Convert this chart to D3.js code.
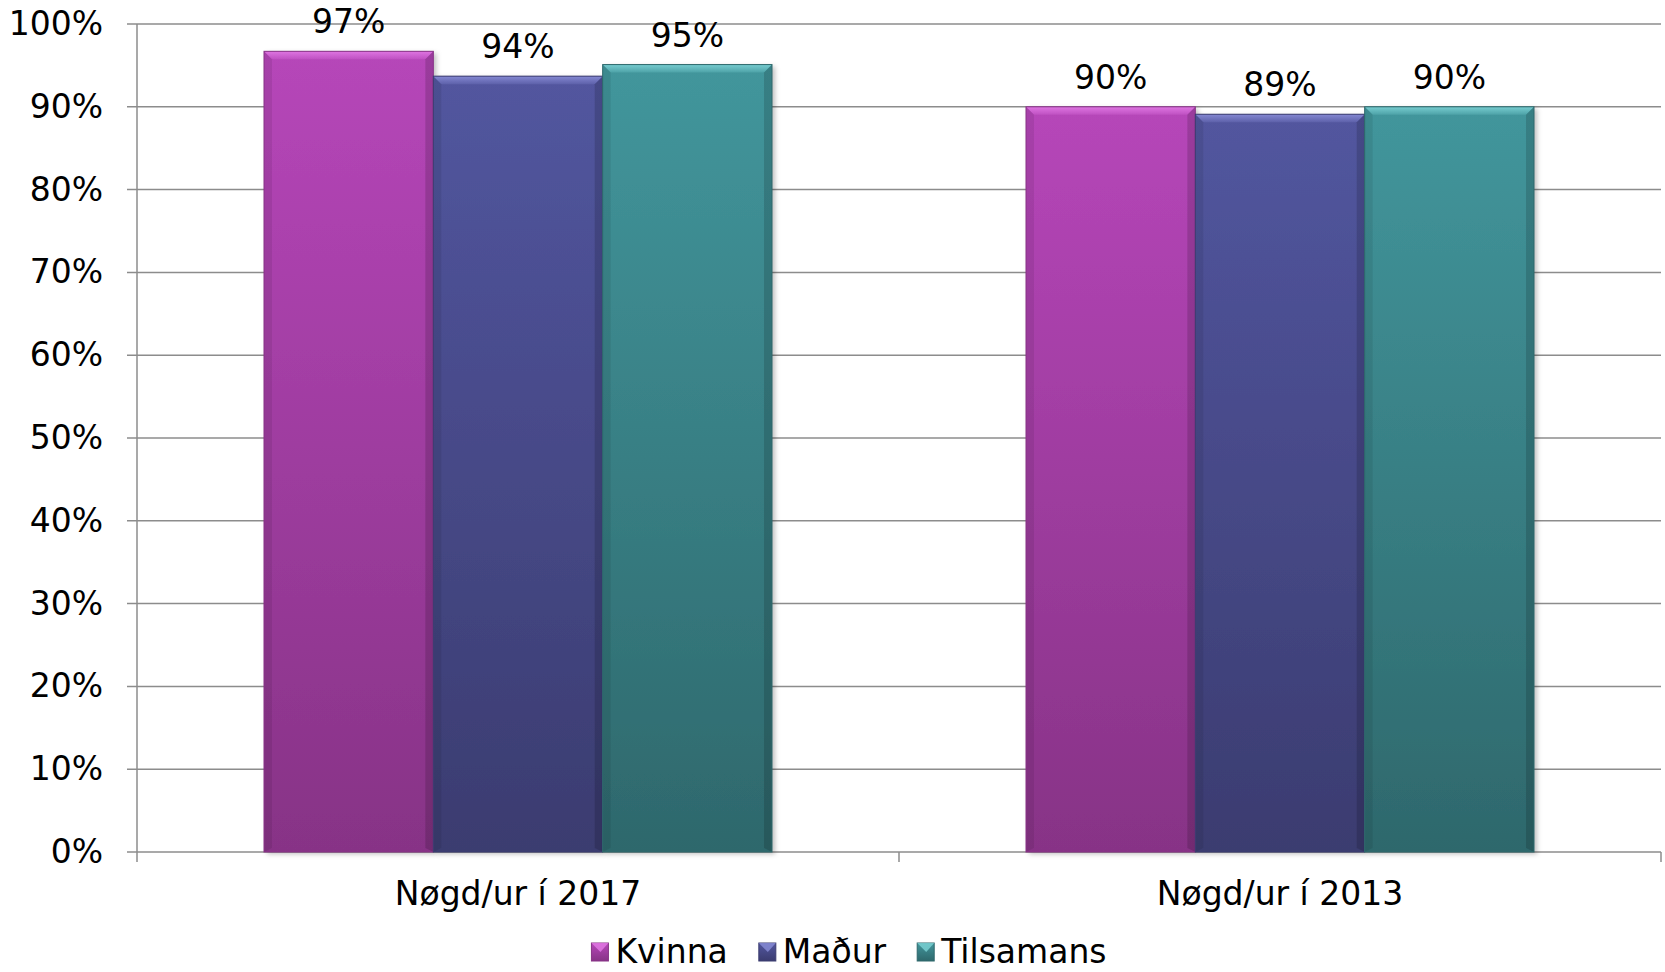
<!DOCTYPE html>
<head>
  <meta charset="utf-8">
  <script src="https://d3js.org/d3.v7.min.js"></script>
  <style>
    body { margin:0; background:#fff; }
    text { font-family: Verdana, "DejaVu Sans", sans-serif; fill:#000; }
  </style>
</head>

<body>
  <script>

  var width = 1665;
  var height = 972;
  var fontSize = "33px";

  // chart data
  var categories = ["Nøgd/ur í 2017", "Nøgd/ur í 2013"];
  var series = ["Kvinna", "Maður", "Tilsamans"];
  var kvinna = [0.967, 0.900];
  var madur = [0.937, 0.891];
  var tilsamans = [0.951, 0.900];
  var yTicks = [0, 0.1, 0.2, 0.3, 0.4, 0.5, 0.6, 0.7, 0.8, 0.9, 1.0];

  var seriesValues = [kvinna, madur, tilsamans];

  // colours: [top, bottom, bevel-light]
  var colors = [
    ["#b646b9", "#873386", "#e37ae6"],
    ["#52569f", "#3b3c70", "#8a8ed8"],
    ["#42969c", "#2e686c", "#7dd3d6"]
  ];

  var plot = {left: 137, right: 1661, top: 24, bottom: 852};

  var svg = d3.select("body").append("svg")
    .attr("width", width)
    .attr("height", height);

  var defs = svg.append("defs");
  colors.forEach(function(c, i) {
    var grad = defs.append("linearGradient")
      .attr("id", "grad" + i)
      .attr("x1", 0).attr("y1", 0).attr("x2", 0).attr("y2", 1);
    grad.append("stop").attr("offset", "0%").attr("stop-color", c[0]);
    grad.append("stop").attr("offset", "100%").attr("stop-color", c[1]);
    var bevel = defs.append("linearGradient")
      .attr("id", "bev" + i)
      .attr("x1", 0).attr("y1", 0).attr("x2", 0).attr("y2", 1);
    bevel.append("stop").attr("offset", "0%").attr("stop-color", c[2]).attr("stop-opacity", 0.9);
    bevel.append("stop").attr("offset", "100%").attr("stop-color", c[2]).attr("stop-opacity", 0.2);
  });
  var shadow = defs.append("filter").attr("id", "shadow")
    .attr("x", "-5%").attr("y", "-5%").attr("width", "115%").attr("height", "110%");
  shadow.append("feDropShadow")
    .attr("dx", 3).attr("dy", 2).attr("stdDeviation", 2.5)
    .attr("flood-color", "#000").attr("flood-opacity", 0.25);

  var y = d3.scaleLinear()
    .domain([0, 1])
    .range([plot.bottom, plot.top]);

  var x0 = d3.scaleBand()
    .domain(categories)
    .range([plot.left, plot.right])
    .padding(0);

  var bw = x0.bandwidth();
  var x1 = d3.scaleBand()
    .domain(series)
    .range([bw / 6, bw * 5 / 6])
    .padding(0);

  // gridlines
  svg.append("g").selectAll("line")
    .data(yTicks)
    .enter()
    .append("line")
    .attr("x1", plot.left - 10)
    .attr("x2", plot.right)
    .attr("y1", function(d) { return y(d); })
    .attr("y2", function(d) { return y(d); })
    .attr("stroke", "#8c8c8c")
    .attr("stroke-width", 1.5);

  // y axis labels
  var axisLeft = d3.axisLeft(y)
    .tickValues(yTicks)
    .tickFormat(d3.format(".0%"))
    .tickSize(10)
    .tickPadding(24);
  var yAxisG = svg.append("g")
    .attr("transform", "translate(" + plot.left + ",0)")
    .call(axisLeft);
  yAxisG.select(".domain").remove();
  yAxisG.selectAll("line").remove();
  yAxisG.selectAll("text")
    .style("font-family", "Verdana, 'DejaVu Sans', sans-serif")
    .style("font-size", fontSize)
    .attr("fill", "#000");

  // vertical axis line
  svg.append("line")
    .attr("x1", plot.left).attr("x2", plot.left)
    .attr("y1", plot.top).attr("y2", plot.bottom + 10)
    .attr("stroke", "#8c8c8c")
    .attr("stroke-width", 1.5);

  // category boundary ticks
  var bounds = categories.map(function(c) { return x0(c); }).concat([plot.right]);
  svg.append("g").selectAll("line")
    .data(bounds.slice(1))
    .enter()
    .append("line")
    .attr("x1", function(d) { return d; })
    .attr("x2", function(d) { return d; })
    .attr("y1", plot.bottom)
    .attr("y2", plot.bottom + 10)
    .attr("stroke", "#8c8c8c")
    .attr("stroke-width", 1.5);

  // x axis labels
  var axisBottom = d3.axisBottom(x0)
    .tickSize(0)
    .tickPadding(30);
  var xAxisG = svg.append("g")
    .attr("transform", "translate(0," + plot.bottom + ")")
    .call(axisBottom);
  xAxisG.select(".domain").remove();
  xAxisG.selectAll("text")
    .style("font-family", "Verdana, 'DejaVu Sans', sans-serif")
    .style("font-size", fontSize)
    .attr("fill", "#000");

  // bars
  var barData = [];
  categories.forEach(function(cat, ci) {
    series.forEach(function(s, si) {
      barData.push({cat: cat, series: s, si: si, value: seriesValues[si][ci]});
    });
  });

  var bars = svg.append("g").selectAll("g.bar")
    .data(barData)
    .enter()
    .append("g")
    .attr("class", "bar");

  function bx(d) { return x0(d.cat) + x1(d.series); }

  bars.append("rect")
    .attr("x", bx)
    .attr("y", function(d) { return y(d.value); })
    .attr("width", x1.bandwidth())
    .attr("height", function(d) { return y(0) - y(d.value); })
    .attr("fill", function(d) { return "url(#grad" + d.si + ")"; })
    .attr("filter", "url(#shadow)");

  var bev = 8;
  // top bevel
  bars.append("polygon")
    .attr("points", function(d) {
      var xl = bx(d), xr = xl + x1.bandwidth(), yt = y(d.value);
      return [[xl, yt], [xr, yt], [xr - bev, yt + bev], [xl + bev, yt + bev]].join(" ");
    })
    .attr("fill", function(d) { return "url(#bev" + d.si + ")"; });
  // left bevel
  bars.append("polygon")
    .attr("points", function(d) {
      var xl = bx(d), yt = y(d.value), yb = y(0);
      return [[xl, yt], [xl + bev, yt + bev], [xl + bev, yb - 4], [xl, yb]].join(" ");
    })
    .attr("fill", "#000")
    .attr("opacity", 0.08);
  // right bevel
  bars.append("polygon")
    .attr("points", function(d) {
      var xr = bx(d) + x1.bandwidth(), yt = y(d.value), yb = y(0);
      return [[xr, yt], [xr - bev, yt + bev], [xr - bev, yb - 4], [xr, yb]].join(" ");
    })
    .attr("fill", "#000")
    .attr("opacity", 0.15);
  // outline
  bars.append("rect")
    .attr("x", bx)
    .attr("y", function(d) { return y(d.value); })
    .attr("width", x1.bandwidth())
    .attr("height", function(d) { return y(0) - y(d.value); })
    .attr("fill", "none")
    .attr("stroke", function(d) { return colors[d.si][1]; })
    .attr("stroke-width", 1);

  // value labels
  bars.append("text")
    .attr("x", function(d) { return bx(d) + x1.bandwidth() / 2; })
    .attr("y", function(d) { return y(d.value) - 18; })
    .attr("text-anchor", "middle")
    .style("font-size", fontSize)
    .text(function(d) { return d3.format(".0%")(d.value); });

  // legend, centred under the chart
  var legendY = 951;
  var legendCenter = 849;
  var legend = svg.append("g");
  var lx = 0;
  series.forEach(function(s, i) {
    var item = legend.append("g").attr("transform", "translate(" + lx + ",0)");
    item.append("rect")
      .attr("x", 0).attr("y", legendY - 8)
      .attr("width", 17).attr("height", 18)
      .attr("fill", "url(#grad" + i + ")")
      .attr("stroke", colors[i][1]);
    item.append("polygon")
      .attr("points", [[0, legendY - 8], [17, legendY - 8], [9, legendY + 1]].join(" "))
      .attr("fill", colors[i][2])
      .attr("opacity", 0.8);
    var t = item.append("text")
      .attr("x", 24)
      .attr("y", legendY + 12)
      .style("font-size", fontSize)
      .text(s);
    lx += 24 + t.node().getComputedTextLength() + (i < series.length - 1 ? 31 : 0);
  });
  legend.attr("transform", "translate(" + (legendCenter - lx / 2) + ",0)");

  </script>
</body>
